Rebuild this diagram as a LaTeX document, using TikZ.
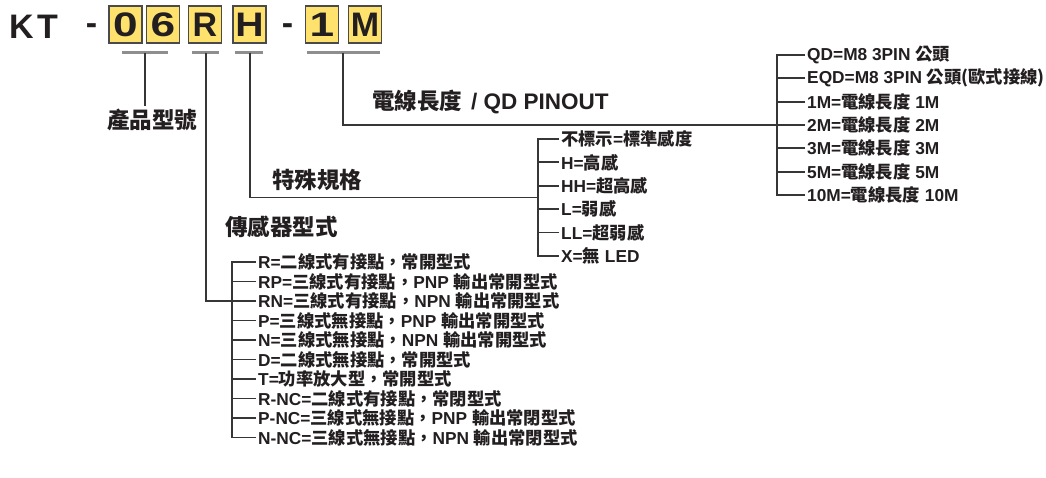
\documentclass[tikz,border=0pt]{standalone}
\usepackage{fontspec}
\usepackage{graphicx}
\setmainfont{Liberation Sans}
\newfontfamily\tcf{Noto Sans CJK TC}
\newcommand\zh[1]{{\tcf\fontsize{17.3}{19}\selectfont #1}}
\newcommand\zhH[1]{{\tcf\fontsize{22.5}{25}\selectfont #1}}
\newcommand\wide[1]{\scalebox{1.3}[1]{#1}}
\definecolor{ink}{HTML}{231F20}
\definecolor{linec}{HTML}{363636}
\definecolor{barc}{HTML}{8E8E8E}
\definecolor{boxfill}{HTML}{FFE26E}
\definecolor{boxline}{HTML}{4A4A4A}
\begin{document}
\begin{tikzpicture}[x=1pt,y=-1pt,
  tl/.style={inner sep=0pt, text=ink, font=\bfseries\fontsize{34}{36}\selectfont},
  kbox/.style={draw=boxline, line width=1.8pt, fill=boxfill, inner sep=0pt,
    minimum width=33pt, minimum height=37pt, text=ink, font=\bfseries\fontsize{34}{36}\selectfont},
  bar/.style={draw=barc, line width=3pt},
  conn/.style={draw=linec, line width=1.8pt},
  head/.style={anchor=west, inner xsep=0pt, inner ysep=3pt, text=ink, font=\bfseries\fontsize{22.5}{25}\selectfont},
  item/.style={anchor=west, inner xsep=2pt, inner ysep=0pt, text=ink, font=\bfseries\fontsize{17.3}{19}\selectfont}
]
\useasboundingbox (0,0) rectangle (1046,478);
\fill[white] (0,0) rectangle (1046,478);

% title
\node[tl] (tK) at (21.5,27) {K};
\node[tl] (tT) at (47.5,27) {T};
\node[tl] (td1) at (91.5,29) {-};
\node[kbox] (k0) at (125.5,24.5) {\wide{0}};
\node[kbox] (k6) at (163,24.5) {\wide{6}};
\node[kbox] (kR) at (205,24.5) {R};
\node[kbox] (kH) at (249.5,24.5) {\scalebox{1.15}[1]{H}};
\node[tl] (td2) at (287.5,29) {-};
\node[kbox] (k1) at (322,24.5) {\wide{1}};
\node[kbox] (kM) at (365,24.5) {M};

% bars under the code
\draw[bar] (122,53) -- (168,53);
\draw[bar] (192,53) -- (219,53);
\draw[bar] (235,53) -- (263,53);
\draw[bar] (307,53) -- (380,53);
\coordinate (bP) at (145,53);
\coordinate (bR) at (206,53);
\coordinate (bH) at (250,53);
\coordinate (bM) at (343,53);

% headings
\node[head] (lp) at (107,120) {\zhH{產品型號}};
\node[head] (ll) at (372,102) {\zhH{電線長度}\hspace{9pt}/ QD PINOUT};
\node[head] (ls) at (272,180) {\zhH{特殊規格}};
\node[head] (lt) at (225,227) {\zhH{傳感器型式}};

% sensor type list
\node[item] (s1)  at (256,262)   {R=\zh{二線式有接點，常開型式}};
\node[item] (s2)  at (256,281.5) {RP=\zh{三線式有接點，}PNP \zh{輸出常開型式}};
\node[item] (s3)  at (256,301)   {RN=\zh{三線式有接點，}NPN \zh{輸出常開型式}};
\node[item] (s4)  at (256,320.5) {P=\zh{三線式無接點，}PNP \zh{輸出常開型式}};
\node[item] (s5)  at (256,340)   {N=\zh{三線式無接點，}NPN \zh{輸出常開型式}};
\node[item] (s6)  at (256,359.5) {D=\zh{二線式無接點，常開型式}};
\node[item] (s7)  at (256,379)   {T=\zh{功率放大型，常開型式}};
\node[item] (s8)  at (256,398.5) {R-NC=\zh{二線式有接點，常閉型式}};
\node[item] (s9)  at (256,418)   {P-NC=\zh{三線式無接點，}PNP \zh{輸出常閉型式}};
\node[item] (s10) at (256,437.5) {N-NC=\zh{三線式無接點，}NPN \zh{輸出常閉型式}};

% special spec list
\node[item] (p1) at (559,139)   {\zh{不標示}=\zh{標準感度}};
\node[item] (p2) at (559,162.4) {H=\zh{高感}};
\node[item] (p3) at (559,185.8) {HH=\zh{超高感}};
\node[item] (p4) at (559,209.2) {L=\zh{弱感}};
\node[item] (p5) at (559,232.6) {LL=\zh{超弱感}};
\node[item] (p6) at (559,256)   {X=\zh{無} LED};

% cable list
\node[item] (q1) at (805,55)    {QD=M8 3PIN \zh{公頭}};
\node[item] (q2) at (805,78.3)  {EQD=M8 3PIN \zh{公頭(歐式接線)}};
\node[item] (q3) at (805,101.7) {1M=\zh{電線長度} 1M};
\node[item] (q4) at (805,125)   {2M=\zh{電線長度} 2M};
\node[item] (q5) at (805,148.3) {3M=\zh{電線長度} 3M};
\node[item] (q6) at (805,171.7) {5M=\zh{電線長度} 5M};
\node[item] (q7) at (805,195)   {10M=\zh{電線長度} 10M};

% brackets
\draw[conn] (s1.west) -- ++(-24,0) |- (s10.west);
\foreach \i in {2,...,9} \draw[conn] (s\i.west) -- ++(-24,0);
\draw[conn] (p1.west) -- ++(-21,0) |- (p6.west);
\foreach \i in {2,...,5} \draw[conn] (p\i.west) -- ++(-21,0);
\draw[conn] (q1.west) -- ++(-28,0) |- (q7.west);
\foreach \i in {2,...,6} \draw[conn] (q\i.west) -- ++(-28,0);

% connectors from the code
\coordinate (hj) at (538,197.5);
\draw[conn] (bP) -- (bP |- lp.north);
\draw[conn] (bR) |- (s3.west);
\draw[conn] (bH) |- (hj);
\draw[conn] (bM) |- (q4.west);
\end{tikzpicture}
\end{document}
